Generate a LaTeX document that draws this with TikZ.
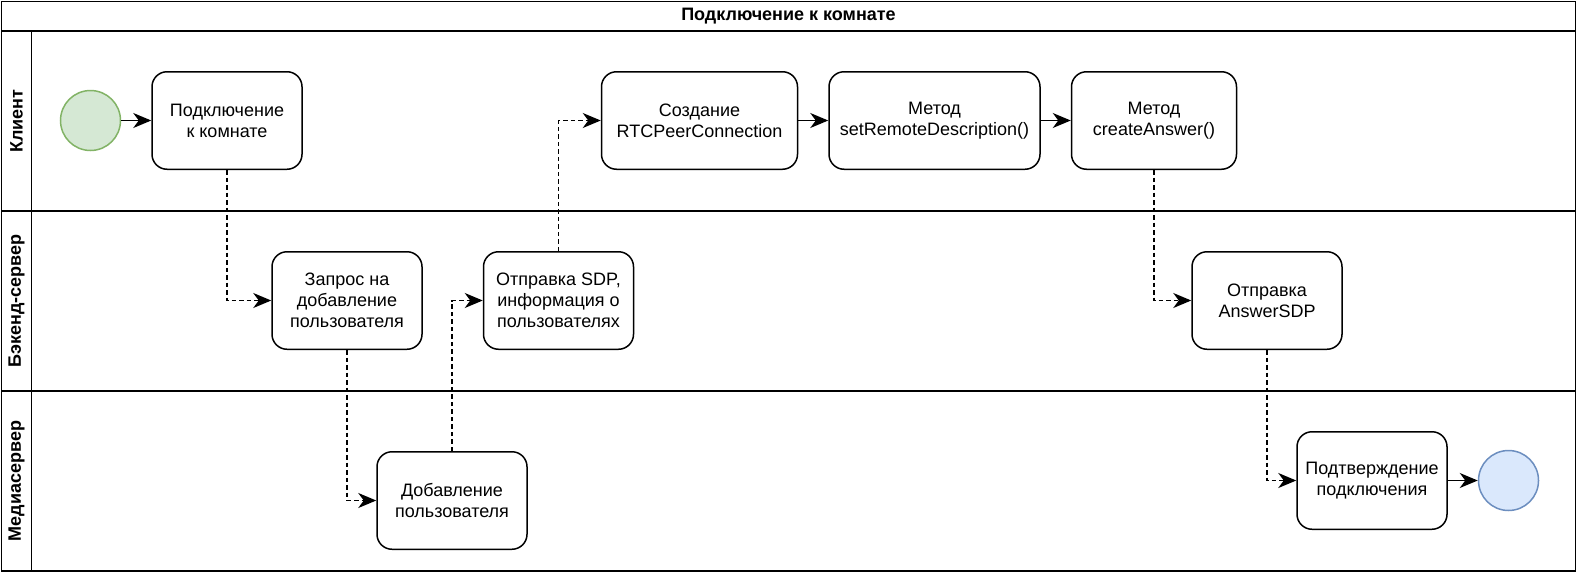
\documentclass[tikz,border=0pt]{standalone}
\usepackage{fontspec}
\setmainfont{Liberation Sans}
\usepackage{tikz}
\usetikzlibrary{arrows.meta,positioning}
\definecolor{startgreen}{HTML}{D5E8D4}
\definecolor{startgreenline}{HTML}{82B366}
\definecolor{endblue}{HTML}{DAE8FC}
\definecolor{endblueline}{HTML}{6C8EBF}

\begin{document}
\begin{tikzpicture}[x=1pt, y=1pt, node distance=30pt, line width=1.5pt,
        font=\fontsize{18}{21}\selectfont,
        task/.style={draw, rounded corners=15pt, align=center, minimum width=150pt, minimum height=97.5pt, inner sep=2pt},
        event/.style={draw, circle, minimum size=60pt, inner sep=0pt},
        lanelabel/.style={rotate=90, font=\fontsize{18}{21}\selectfont\bfseries},
        flow/.style={-{Stealth[length=18pt, width=15pt, inset=5.5pt]}},
        msg/.style={flow, dash pattern=on 4.5pt off 3pt}]
        \useasboundingbox (0,0) rectangle (1578,-573);

        % Pool and lanes
        \draw (1.5,-1.5) rectangle (1575.5,-571);
        \draw (1.5,-31) -- (1575.5,-31);
        \draw (1.5,-211) -- (1575.5,-211);
        \draw (1.5,-391) -- (1575.5,-391);
        \draw (31.5,-31) -- (31.5,-571);
        \node [font=\fontsize{18}{21}\selectfont\bfseries] (title) at (788.5,-16.25) {Подключение к комнате};
        \node [lanelabel] (clientlane) at (16.5,-121) {Клиент};
        \node [lanelabel] (backendlane) at (16.5,-301) {Бэкенд-сервер};
        \node [lanelabel] (medialane) at (16.5,-481) {Медиасервер};

        % Client lane
        \node [event, fill=startgreen, draw=startgreenline] (start) at (90.5,-120.5) {};
        \node [task, right=of start] (connect) {Подключение\\к комнате};
        \node [task, minimum width=196pt, right=298pt of connect] (create) {Создание\\RTCPeerConnection};
        \node [task, minimum width=211pt, right=of create] (remote) {Метод\\setRemoteDescription()};
        \node [task, minimum width=165pt, right=of remote] (answer) {Метод\\createAnswer()};

        % Backend lane
        \node [task, below=81pt of connect, xshift=120pt] (request) {Запрос на\\добавление\\пользователя};
        \node [task, right=60pt of request] (sendsdp) {Отправка SDP,\\информация о\\пользователях};
        \node [task, below=81pt of answer, xshift=113pt] (sendanswer) {Отправка\\AnswerSDP};

        % Media lane
        \node [task, below=101pt of request, xshift=105pt] (adduser) {Добавление\\пользователя};
        \node [task, below=81pt of sendanswer, xshift=105pt] (confirm) {Подтверждение\\подключения};
        \node [event, fill=endblue, draw=endblueline, right=of confirm] (end) {};

        % Arrows
        \draw [flow] (start) -- (connect);
        \draw [flow] (create) -- (remote);
        \draw [flow] (remote) -- (answer);
        \draw [flow] (confirm) -- (end);
        \draw [msg] (connect) |- (request);
        \draw [msg] (request) |- (adduser);
        \draw [msg] (adduser) |- (sendsdp);
        \draw [msg] (sendsdp) |- (create);
        \draw [msg] (answer) |- (sendanswer);
        \draw [msg] (sendanswer) |- (confirm);
    \end{tikzpicture}
\end{document}
